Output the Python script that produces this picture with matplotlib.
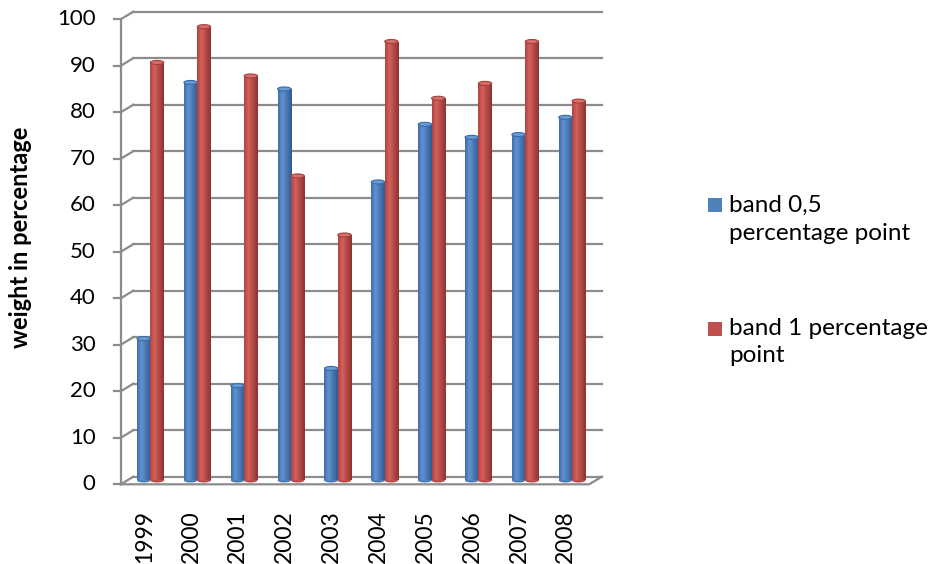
import numpy as np
import matplotlib
matplotlib.use("Agg")
import matplotlib.pyplot as plt
from matplotlib.patches import Ellipse, Rectangle

plt.rcParams['font.family'] = ['Lato', 'DejaVu Sans']

years = ["1999", "2000", "2001", "2002", "2003", "2004", "2005", "2006", "2007", "2008"]
band_05 = [30.5, 85.6, 20.4, 84.2, 24.1, 64.2, 76.6, 73.8, 74.4, 78.1]
band_1 = [89.9, 97.6, 87.0, 65.5, 52.8, 94.4, 82.2, 85.4, 94.4, 81.6]
labels = ["band 0,5\npercentage point", "band 1 percentage\npoint"]
yticks = list(range(0, 101, 10))

W, H = 933, 564
fig = plt.figure(figsize=(W / 100, H / 100), dpi=100)
# axes = middle depth plane of the fake 3d box (pixel numbers from reference)
left, right, bot, top = 127, 595.5, 480.5, 15.5
ax = fig.add_axes([left / W, 1 - bot / H, (right - left) / W, (bot - top) / H])
ax.set_xlim(-0.5, len(years) - 0.5)
ax.set_ylim(0, 100)
ax.axis("off")

# pixel -> data unit conversion for depth offsets
px_x = len(years) / (right - left)
px_y = 100 / (bot - top)
dx, dy = 6.3 * px_x, 3.8 * px_y
grid_c = "#8c8c8c"
lw = 1.6

x0, x1 = -0.5, len(years) - 0.5
for v in yticks:
    # back wall gridline
    ax.plot([x0 + dx, x1 + dx], [v + dy, v + dy], color=grid_c, lw=lw, clip_on=False, zorder=1)
    # side diagonal
    ax.plot([x0 - dx, x0 + dx], [v - dy, v + dy], color=grid_c, lw=lw, clip_on=False, zorder=1)
    # front tick
    ax.plot([x0 - dx - 7 * px_x, x0 - dx], [v - dy, v - dy], color=grid_c, lw=lw, clip_on=False, zorder=1)
    ax.text(x0 - dx - 25 * px_x, v - dy, str(v), ha="right", va="center", fontsize=16)

# front axis and floor
ax.plot([x0 - dx, x0 - dx], [-dy, 100 - dy], color=grid_c, lw=lw, clip_on=False, zorder=1)
ax.plot([x0 - dx, x1 - dx, x1 + dx], [-dy, -dy, dy], color=grid_c, lw=lw, clip_on=False, zorder=1)

x = np.arange(len(years))
w = 0.285
ell_h = 4.0 * px_y

def shade(base_l, peak, base_r, n=64):
    t = np.linspace(0, 1, n)
    cols = np.array([np.interp(t, [0, 0.32, 1], [base_l[i], peak[i], base_r[i]]) for i in range(3)]).T / 255
    return cols[np.newaxis, :, :]

styles = [
    dict(xs=x - w / 2, vals=band_05, flat="#4f81bd",
         grad=shade((66, 108, 165), (95, 147, 212), (50, 88, 142)), topc="#6a9bd6", topedge="#3d6aa3"),
    dict(xs=x + w / 2, vals=band_1, flat="#c0504d",
         grad=shade((176, 68, 64), (214, 96, 92), (140, 50, 48)), topc="#d9706c", topedge="#a0403d"),
]

for s in styles:
    bars = ax.bar(s["xs"], s["vals"], width=w, color=s["flat"], zorder=3, clip_on=False)
    for b, xc, v in zip(bars, s["xs"], s["vals"]):
        ax.add_patch(Ellipse((xc, 0), w, ell_h, facecolor=tuple(s["grad"][0, 40]), edgecolor="none", zorder=2.9, clip_on=False))
        im = ax.imshow(s["grad"], extent=(xc - w / 2, xc + w / 2, 0, v), aspect="auto", zorder=3.1, interpolation="bilinear")
        im.set_clip_path(b)
        ax.add_patch(Ellipse((xc, v), w, ell_h, facecolor=s["topc"], edgecolor=s["topedge"], lw=0.8, zorder=3.2, clip_on=False))

ax.set_xlim(-0.5, len(years) - 0.5)
ax.set_ylim(0, 100)

for xi, yr in zip(x, years):
    ax.text(xi - dx, -dy - 26 * px_y, yr, rotation=90, ha="center", va="top", fontsize=16.5)

fig.text(21 / W, 1 - 237 / H, "weight in percentage", rotation=90, ha="center", va="center",
         fontsize=17, fontweight="bold")

# legend, drawn by hand (square sits on the first line like in Excel)
sq_y = [205, 329]
base_y = [(211.7, 240), (335, 362)]
for s, lab, yy, bl in zip(styles, labels, sq_y, base_y):
    fig.add_artist(Rectangle((707.5 / W, 1 - (yy + 7) / H), 14 / W, 14 / H, transform=fig.transFigure,
                             facecolor=s["flat"], edgecolor="none"))
    for line, by in zip(lab.split("\n"), bl):
        fig.text(729 / W, 1 - by / H, line, ha="left", va="baseline", fontsize=17.5)

fig.savefig("out.png", dpi=100)
